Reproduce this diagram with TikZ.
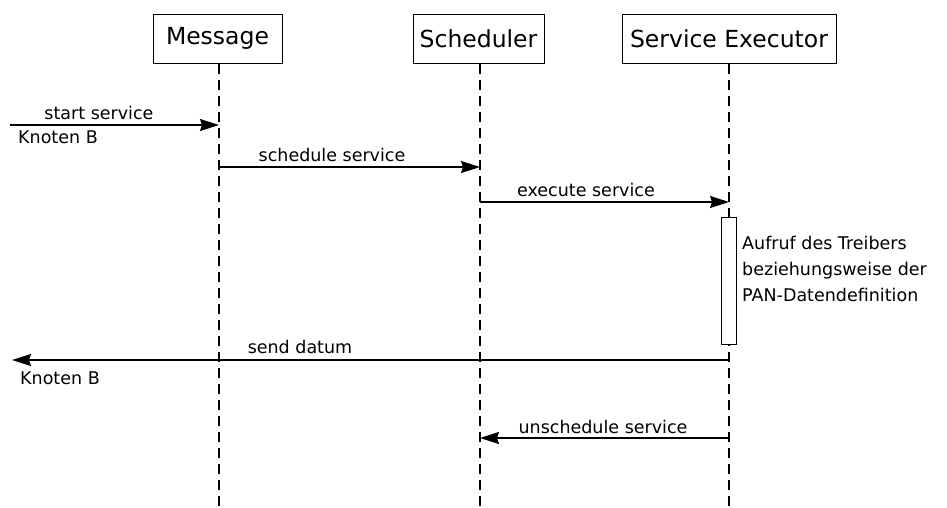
\documentclass[tikz,border=0pt]{standalone}
\usepackage{fontspec}
\setmainfont{DejaVu Sans}
\usetikzlibrary{arrows.meta}
\begin{document}
\begin{tikzpicture}[x=1pt,y=-1pt,
  actor/.style={draw,line width=1pt,minimum height=49pt,inner sep=0pt,font=\fontsize{23.5}{25}\selectfont},
  life/.style={line width=1.2pt,dash pattern=on 10pt off 6pt},
  msg/.style={line width=1.4pt,-{Stealth[length=19pt,width=12pt,inset=2pt]}},
  lbl/.style={font=\fontsize{17.5}{19}\selectfont,inner sep=0pt},
  note/.style={font=\fontsize{17.5}{26}\selectfont,inner sep=0pt,align=left}]
\useasboundingbox (0,0) rectangle (947,507);
\node[actor,minimum width=129pt] (msgbox) at (217.5,38.5) {Message};
\node[actor,minimum width=131pt] (sched) at (478.5,38.5) {Scheduler};
\node[actor,minimum width=214pt] (exec) at (729,38.5) {Service Executor};
\coordinate (mEnd) at (219,507);
\coordinate (sEnd) at (480,507);
\coordinate (eEnd) at (729,507);
\draw[life] (msgbox.south -| mEnd) -- (mEnd);
\draw[life] (sched.south -| sEnd) -- (sEnd);
\draw[life] (exec.south -| eEnd) -- (eEnd);
% coordinates on lifelines
\coordinate (inL) at (10,125);
\coordinate (m1) at (219,125);
\coordinate (m2) at (219,167);
\coordinate (s2) at (480,167);
\coordinate (s3) at (480,202);
\coordinate (e3) at (729,202);
\coordinate (e4) at (729,360);
\coordinate (outL) at (12,360);
\coordinate (e5) at (729,438);
\coordinate (s5) at (480,438);
\node[draw,fill=white,line width=1pt,minimum width=15pt,minimum height=127pt,inner sep=0pt] (act) at (728.5,280.5) {};
\draw[msg] (inL) -- (m1);
\node[lbl] (l1) at (99,113) {start service};
\node[lbl,anchor=west] (k1) at (18,137) {Knoten B};
\draw[msg] (m2) -- (s2);
\node[lbl] (l2) at (332,155) {schedule service};
\draw[msg] (s3) -- (e3);
\node[lbl] (l3) at (586,190) {execute service};
\node[note,anchor=north west] (n1) at (742,236) {Aufruf des Treibers\\beziehungsweise der\\PAN-Datendefinition};
\draw[msg] (e4) -- (outL);
\node[lbl] (l4) at (300,347) {send datum};
\node[lbl,anchor=west] (k2) at (20,378) {Knoten B};
\draw[msg] (e5) -- (s5);
\node[lbl] (l5) at (603,427) {unschedule service};
\end{tikzpicture}
\end{document}
